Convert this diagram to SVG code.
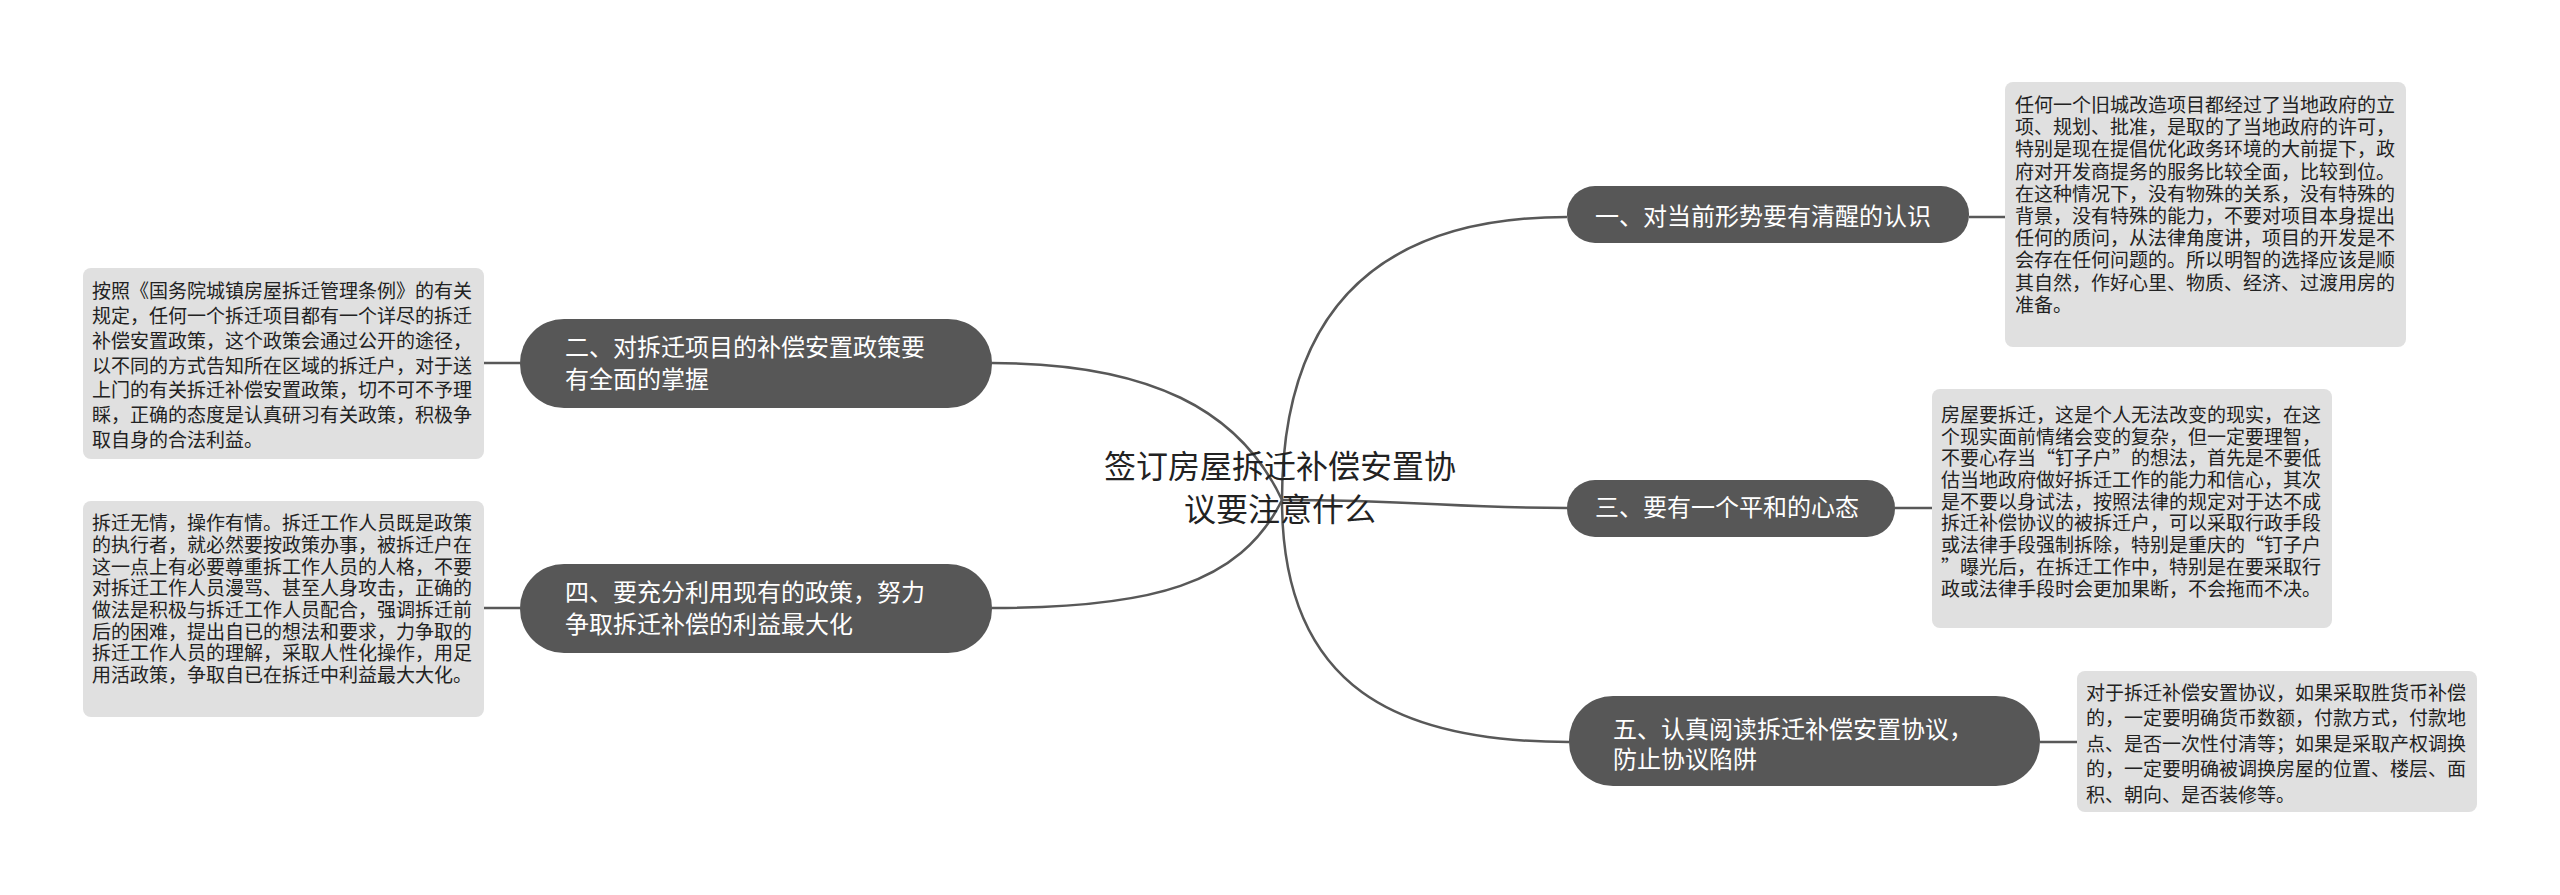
<svg xmlns="http://www.w3.org/2000/svg" width="2560" height="895" viewBox="0 0 2560 895">
<style>
text{font-family:"Noto Sans CJK SC","Liberation Sans",sans-serif}
.pill{fill:#575757}
.pt{fill:#fff;font-size:24px}
.box{fill:#e0e0e0}
.bt{fill:#222;font-size:19px}
.ln{fill:none;stroke:#585858;stroke-width:2.5}
.title{fill:#222;font-size:32px;text-anchor:middle}
</style>
<rect width="2560" height="895" fill="#fff"/>
<g id="connectors">
<path class="ln" d="M1282,500 C1282,290 1400,217 1567,217"/>
<path class="ln" d="M1282,500 C1240,410 1150,363 992,363"/>
<path class="ln" d="M1282,500 C1420,500 1450,508 1567,508"/>
<path class="ln" d="M1282,500 C1240,585 1150,608 992,608"/>
<path class="ln" d="M1282,500 C1282,690 1400,742 1569,742"/>
<path class="ln" d="M1969,217 H2005 M1895,508 H1932 M2040,742 H2077 M520,363 H484 M520,608 H484"/>
</g>
<g id="root">
<text class="title" x="1280" y="478">签订房屋拆迁补偿安置协</text>
<text class="title" x="1280" y="521">议要注意什么</text>
</g>
<g id="n1">
<rect class="pill" x="1567" y="186" width="402" height="57" rx="28"/>
<text class="pt" x="1595" y="225">一、对当前形势要有清醒的认识</text>
</g>
<g id="n2">
<rect class="pill" x="520" y="319" width="472" height="89" rx="44"/>
<text class="pt" x="565" y="356">二、对拆迁项目的补偿安置政策要</text>
<text class="pt" x="565" y="388">有全面的掌握</text>
</g>
<g id="n3">
<rect class="pill" x="1567" y="480" width="328" height="57" rx="28"/>
<text class="pt" x="1595" y="516">三、要有一个平和的心态</text>
</g>
<g id="n4">
<rect class="pill" x="520" y="564" width="472" height="89" rx="44"/>
<text class="pt" x="565" y="601">四、要充分利用现有的政策，努力</text>
<text class="pt" x="565" y="633">争取拆迁补偿的利益最大化</text>
</g>
<g id="n5">
<rect class="pill" x="1569" y="696" width="471" height="90" rx="44"/>
<text class="pt" x="1613" y="738">五、认真阅读拆迁补偿安置协议，</text>
<text class="pt" x="1613" y="768">防止协议陷阱</text>
</g>
<g id="d1">
<rect class="box" x="2005" y="82" width="401" height="265" rx="8"/>
<text class="bt" x="2015" y="112">任何一个旧城改造项目都经过了当地政府的立</text>
<text class="bt" x="2015" y="134">项、规划、批准，是取的了当地政府的许可，</text>
<text class="bt" x="2015" y="156">特别是现在提倡优化政务环境的大前提下，政</text>
<text class="bt" x="2015" y="179">府对开发商提务的服务比较全面，比较到位。</text>
<text class="bt" x="2015" y="201">在这种情况下，没有物殊的关系，没有特殊的</text>
<text class="bt" x="2015" y="223">背景，没有特殊的能力，不要对项目本身提出</text>
<text class="bt" x="2015" y="245">任何的质问，从法律角度讲，项目的开发是不</text>
<text class="bt" x="2015" y="267">会存在任何问题的。所以明智的选择应该是顺</text>
<text class="bt" x="2015" y="290">其自然，作好心里、物质、经济、过渡用房的</text>
<text class="bt" x="2015" y="312">准备。</text>
</g>
<g id="d2">
<rect class="box" x="83" y="268" width="401" height="191" rx="8"/>
<text class="bt" x="92" y="298">按照《国务院城镇房屋拆迁管理条例》的有关</text>
<text class="bt" x="92" y="323">规定，任何一个拆迁项目都有一个详尽的拆迁</text>
<text class="bt" x="92" y="348">补偿安置政策，这个政策会通过公开的途径，</text>
<text class="bt" x="92" y="373">以不同的方式告知所在区域的拆迁户，对于送</text>
<text class="bt" x="92" y="397">上门的有关拆迁补偿安置政策，切不可不予理</text>
<text class="bt" x="92" y="422">睬，正确的态度是认真研习有关政策，积极争</text>
<text class="bt" x="92" y="447">取自身的合法利益。</text>
</g>
<g id="d3">
<rect class="box" x="1932" y="389" width="400" height="239" rx="8"/>
<text class="bt" x="1941" y="422">房屋要拆迁，这是个人无法改变的现实，在这</text>
<text class="bt" x="1941" y="444">个现实面前情绪会变的复杂，但一定要理智，</text>
<text class="bt" x="1941" y="465">不要心存当“钉子户”的想法，首先是不要低</text>
<text class="bt" x="1941" y="487">估当地政府做好拆迁工作的能力和信心，其次</text>
<text class="bt" x="1941" y="509">是不要以身试法，按照法律的规定对于达不成</text>
<text class="bt" x="1941" y="530">拆迁补偿协议的被拆迁户，可以采取行政手段</text>
<text class="bt" x="1941" y="552">或法律手段强制拆除，特别是重庆的“钉子户</text>
<text class="bt" x="1941" y="574">”曝光后，在拆迁工作中，特别是在要采取行</text>
<text class="bt" x="1941" y="596">政或法律手段时会更加果断，不会拖而不决。</text>
</g>
<g id="d4">
<rect class="box" x="83" y="501" width="401" height="216" rx="8"/>
<text class="bt" x="92" y="530">拆迁无情，操作有情。拆迁工作人员既是政策</text>
<text class="bt" x="92" y="552">的执行者，就必然要按政策办事，被拆迁户在</text>
<text class="bt" x="92" y="574">这一点上有必要尊重拆工作人员的人格，不要</text>
<text class="bt" x="92" y="595">对拆迁工作人员漫骂、甚至人身攻击，正确的</text>
<text class="bt" x="92" y="617">做法是积极与拆迁工作人员配合，强调拆迁前</text>
<text class="bt" x="92" y="639">后的困难，提出自已的想法和要求，力争取的</text>
<text class="bt" x="92" y="660">拆迁工作人员的理解，采取人性化操作，用足</text>
<text class="bt" x="92" y="682">用活政策，争取自已在拆迁中利益最大大化。</text>
</g>
<g id="d5">
<rect class="box" x="2077" y="671" width="400" height="141" rx="8"/>
<text class="bt" x="2086" y="700">对于拆迁补偿安置协议，如果采取胜货币补偿</text>
<text class="bt" x="2086" y="725">的，一定要明确货币数额，付款方式，付款地</text>
<text class="bt" x="2086" y="751">点、是否一次性付清等；如果是采取产权调换</text>
<text class="bt" x="2086" y="776">的，一定要明确被调换房屋的位置、楼层、面</text>
<text class="bt" x="2086" y="802">积、朝向、是否装修等。</text>
</g>
</svg>
